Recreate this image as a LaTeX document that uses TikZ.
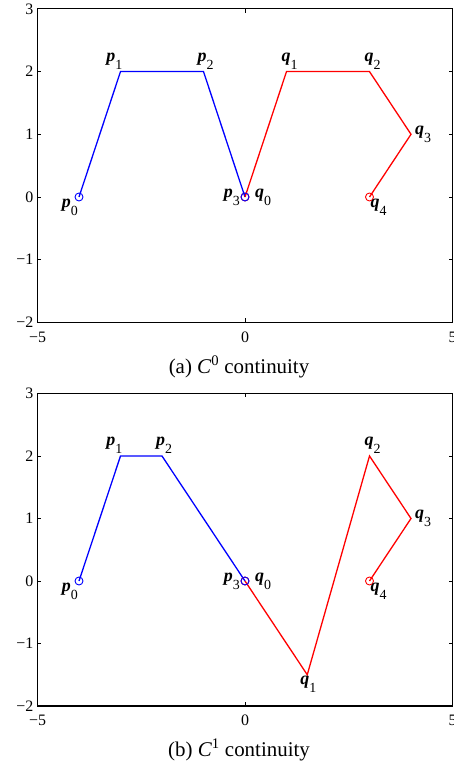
\documentclass[tikz,border=0pt]{standalone}
\usepackage{fontspec}
\setmainfont{Liberation Serif}
\usetikzlibrary{positioning}

\tikzset{
    pcurve/.style={draw=blue, line width=1.3bp},
    qcurve/.style={draw=red, line width=1.3bp},
    ctrl/.style={circle, draw, line width=0.9bp, minimum size=8bp, inner sep=0pt},
    ptlabel/.style={inner sep=0pt, font=\fontsize{18}{18}\selectfont},
    ticklabel/.style={inner sep=0pt, font=\fontsize{16}{16}\selectfont},
    caption/.style={inner sep=0pt, font=\fontsize{21}{24}\selectfont}
}

% control point label: bold italic letter, upright index
\newcommand{\cpt}[2]{\textbf{\textit{#1}}\raisebox{-8bp}{\fontsize{14}{14}\selectfont #2}}

% axes box, inward ticks and tick labels (prefix #1)
\newcommand{\plotframe}[1]{
    \draw [line width=1.1bp] (-5,-2) rectangle (5,3);
    \foreach \x/\t in {-5/−5, 0/0, 5/5} {
        \draw [line width=0.8bp] (\x,-2) -- ++(0,4bp) (\x,3) -- ++(0,-4bp);
        \node [ticklabel, anchor=north, yshift=-9bp] (#1xt\x) at (\x,-2) {\t};
    }
    \foreach \y/\t in {-2/−2, -1/−1, 0/0, 1/1, 2/2, 3/3} {
        \draw [line width=0.8bp] (-5,\y) -- ++(4bp,0) (5,\y) -- ++(-4bp,0);
        \node [ticklabel, anchor=east, xshift=-4bp] (#1yt\y) at (-5,\y) {\t};
    }
}

\begin{document}
\begin{tikzpicture}[x=1bp, y=1bp]
    \useasboundingbox (0,0) rectangle (454,765);

    % (a) C0 continuity
    \begin{scope}[shift={(245,568)}, x=41.5bp, y=62.7bp]
        \plotframe{a}

        \coordinate (ap0) at (-4,0);
        \coordinate (ap1) at (-3,2);
        \coordinate (ap2) at (-1,2);
        \coordinate (ap3) at (0,0);
        \coordinate (aq0) at (0,0);
        \coordinate (aq1) at (1,2);
        \coordinate (aq2) at (3,2);
        \coordinate (aq3) at (4,1);
        \coordinate (aq4) at (3,0);

        \draw [pcurve] (ap0) -- (ap1) -- (ap2) -- (ap3);
        \draw [qcurve] (aq0) -- (aq1) -- (aq2) -- (aq3) -- (aq4);

        \node [ctrl, blue] (ap0m) at (ap0) {};
        \node [ctrl, red] (aq0m) at (aq0) {};
        \node [ctrl, blue] (ap3m) at (ap3) {};
        \node [ctrl, red] (aq4m) at (aq4) {};

        % labels
        \node [ptlabel, below left=2bp and 1bp of ap0] (ap0l) {\cpt{p}{0}};
        \node [ptlabel, above left=2bp and -2bp of ap1] (ap1l) {\cpt{p}{1}};
        \node [ptlabel, above right=2bp and -6bp of ap2] (ap2l) {\cpt{p}{2}};
        \node [ptlabel, left=5bp of ap3] (ap3l) {\cpt{p}{3}};
        \node [ptlabel, right=10bp of aq0] (aq0l) {\cpt{q}{0}};
        \node [ptlabel, above right=2bp and -5bp of aq1] (aq1l) {\cpt{q}{1}};
        \node [ptlabel, above right=2bp and -5bp of aq2] (aq2l) {\cpt{q}{2}};
        \node [ptlabel, right=4bp of aq3] (aq3l) {\cpt{q}{3}};
        \node [ptlabel, below right=2bp and 1bp of aq4] (aq4l) {\cpt{q}{4}};
    \end{scope}

    \node [caption] (capa) at (239,398) {(a) \textit{C}\textsuperscript{0} continuity};

    % (b) C1 continuity
    \begin{scope}[shift={(245,184)}, x=41.5bp, y=62.5bp]
        \plotframe{b}

        \coordinate (bp0) at (-4,0);
        \coordinate (bp1) at (-3,2);
        \coordinate (bp2) at (-2,2);
        \coordinate (bp3) at (0,0);
        \coordinate (bq0) at (0,0);
        \coordinate (bq1) at (1.5,-1.5);
        \coordinate (bq2) at (3,2);
        \coordinate (bq3) at (4,1);
        \coordinate (bq4) at (3,0);

        \draw [pcurve] (bp0) -- (bp1) -- (bp2) -- (bp3);
        \draw [qcurve] (bq0) -- (bq1) -- (bq2) -- (bq3) -- (bq4);

        \node [ctrl, blue] (bp0m) at (bp0) {};
        \node [ctrl, red] (bq0m) at (bq0) {};
        \node [ctrl, blue] (bp3m) at (bp3) {};
        \node [ctrl, red] (bq4m) at (bq4) {};

        % labels
        \node [ptlabel, below left=2bp and 1bp of bp0] (bp0l) {\cpt{p}{0}};
        \node [ptlabel, above left=2bp and -2bp of bp1] (bp1l) {\cpt{p}{1}};
        \node [ptlabel, above right=2bp and -6bp of bp2] (bp2l) {\cpt{p}{2}};
        \node [ptlabel, left=5bp of bp3] (bp3l) {\cpt{p}{3}};
        \node [ptlabel, right=10bp of bq0] (bq0l) {\cpt{q}{0}};
        \node [ptlabel, below right=1bp and -7bp of bq1] (bq1l) {\cpt{q}{1}};
        \node [ptlabel, above right=2bp and -5bp of bq2] (bq2l) {\cpt{q}{2}};
        \node [ptlabel, right=4bp of bq3] (bq3l) {\cpt{q}{3}};
        \node [ptlabel, below right=2bp and 1bp of bq4] (bq4l) {\cpt{q}{4}};
    \end{scope}

    \node [caption] (capb) at (239,15) {(b) \textit{C}\textsuperscript{1} continuity};
\end{tikzpicture}
\end{document}
